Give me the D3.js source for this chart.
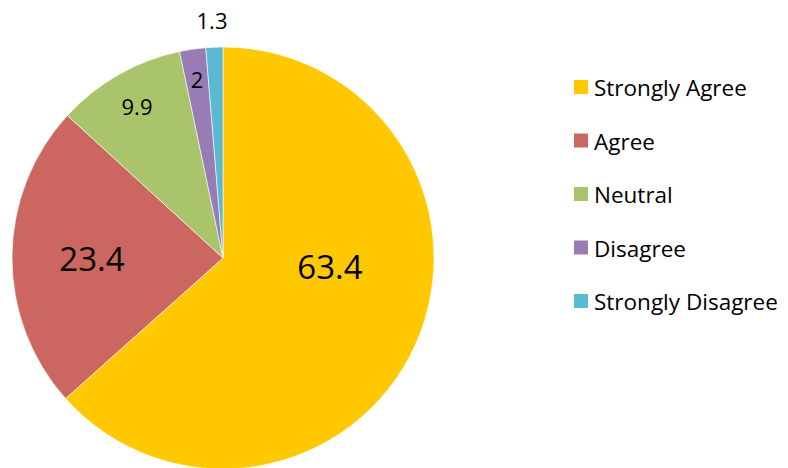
<!DOCTYPE html>
<html>
  <head>
    <style>
      body { margin: 0; background: #fff; }
      text { font-family: "Open Sans", "Noto Sans", sans-serif; fill: #000; }
    </style>
  </head>
  <body>
    <script src="https://d3js.org/d3.v7.min.js"></script>
    <script>
      // data
      var categories = ["Strongly Agree", "Agree", "Neutral", "Disagree", "Strongly Disagree"];
      var values = [63.4, 23.4, 9.9, 2, 1.3];
      var colors = ["#FFC800", "#CC6660", "#AAC46C", "#977DB3", "#5BBAD2"];

      // label placement (offset from pie centre, px) and font size
      var labelOffsets = [[107, 21], [-131, 13], [-86, -143], [-26, -170], [-11, -229]];
      var labelSizes = [33, 33, 22, 22, 22];

      var width = 788, height = 468;
      var cx = 223, cy = 258, radius = 211;

      var svg = d3.select("body")
        .append("svg")
        .attr("width", width)
        .attr("height", height);

      var pie = d3.pie().sort(null).value(function(d){ return d; });
      var arc = d3.arc().innerRadius(0).outerRadius(radius);

      var g = svg.append("g").attr("transform", "translate(" + cx + "," + cy + ")");

      var arcs = pie(values);

      g.selectAll("path.slice")
        .data(arcs)
        .enter()
        .append("path")
        .attr("class", "slice")
        .attr("d", arc)
        .attr("fill", function(d, i){ return colors[i]; })
        .attr("stroke", "#fff")
        .attr("stroke-width", 0.6);

      g.selectAll("text.lbl")
        .data(arcs)
        .enter()
        .append("text")
        .attr("class", "lbl")
        .attr("x", function(d, i){ return labelOffsets[i][0]; })
        .attr("y", function(d, i){ return labelOffsets[i][1]; })
        .attr("text-anchor", "middle")
        .style("font-size", function(d, i){ return labelSizes[i] + "px"; })
        .text(function(d){ return d.data; });

      // legend
      var legend = svg.append("g").attr("transform", "translate(574,80)");
      var rowY = d3.scalePoint().domain(categories).range([0, 214]);

      var rows = legend.selectAll("g.row")
        .data(categories)
        .enter()
        .append("g")
        .attr("class", "row")
        .attr("transform", function(d){ return "translate(0," + rowY(d) + ")"; });

      rows.append("rect")
        .attr("width", 14)
        .attr("height", 14)
        .attr("fill", function(d, i){ return colors[i]; });

      rows.append("text")
        .attr("x", 20)
        .attr("y", 16)
        .style("font-size", "22.5px")
        .text(function(d){ return d; });
    </script>
  </body>
</html>
